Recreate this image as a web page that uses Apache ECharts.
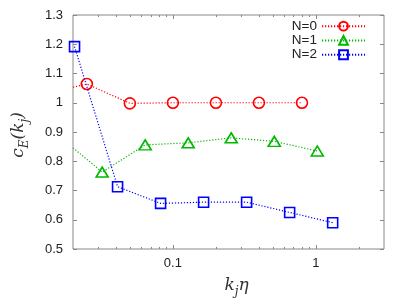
<!DOCTYPE html>
<html>
<head>
<meta charset="utf-8">
<script src="https://cdn.jsdelivr.net/npm/echarts@6/dist/echarts.min.js"></script>
<style>html,body{margin:0;padding:0;background:#fff}#c{width:398px;height:298px}</style>
</head>
<body>
<div id="c"></div>
<script>
// ---- data ----
const seriesNames = ['N=0', 'N=1', 'N=2'];
const xN0 = [0.0125, 0.025, 0.05, 0.1, 0.2, 0.4, 0.8];
const yN0 = [1.03, 1.064, 0.998, 1.0, 1.0, 1.0, 1.0];
const xN1 = [0.016, 0.032, 0.064, 0.128, 0.256, 0.512, 1.024];
const yN1 = [0.885, 0.763, 0.856, 0.863, 0.88, 0.868, 0.835];
const xN2 = [0.0205, 0.041, 0.082, 0.164, 0.328, 0.656, 1.312];
const yN2 = [1.192, 0.713, 0.656, 0.66, 0.66, 0.625, 0.59];
const xMajorTicks = [0.1, 1];
const xMinorTicks = [0.03, 0.04, 0.05, 0.06, 0.07, 0.08, 0.09, 0.2, 0.3, 0.4, 0.5, 0.6, 0.7, 0.8, 0.9, 2];

const zip = (xs, ys) => xs.map((x, i) => [x, ys[i]]);
const colors = ['#ff0000', '#00b800', '#0000ff'];
const symbols = ['circle', 'triangle', 'rect'];
const sizes = [11, [12, 10], 10];
const datas = [zip(xN0, yN0), zip(xN1, yN1), zip(xN2, yN2)];

const axisColor = '#888888';
const font = '"Liberation Sans", Arial, sans-serif';
const serif = '"DejaVu Serif", "Liberation Serif", serif';
const nameRich = {
  i: { fontFamily: serif, fontStyle: 'italic', fontSize: 17, color: '#333', lineHeight: 24, verticalAlign: 'middle' },
  s: { fontFamily: serif, fontStyle: 'italic', fontSize: 12, color: '#333', lineHeight: 24, verticalAlign: 'bottom' }
};

function xAx(pos, ticks, len, labels) {
  return {
    type: 'log', logBase: 10, min: 0.02, max: 3, position: pos,
    gridIndex: 0,
    axisLine: { show: false },
    splitLine: { show: false },
    axisTick: { show: true, inside: true, length: len, customValues: ticks, lineStyle: { color: axisColor, width: 1 } },
    axisLabel: labels ? { show: true, customValues: xMajorTicks, margin: 8, color: '#222', fontSize: 13, fontFamily: font,
      formatter: v => String(+(+v).toPrecision(3)) } : { show: false }
  };
}

const xAxes = [xAx('bottom', xMajorTicks, 4, true), xAx('bottom', xMinorTicks, 2, false),
               xAx('top', xMajorTicks, 4, false), xAx('top', xMinorTicks, 2, false)];
xAxes[0].name = '{i|k}{s|j}{i|η}';
xAxes[0].nameLocation = 'middle';
xAxes[0].nameGap = 25;
xAxes[0].nameTextStyle = { rich: nameRich, padding: [0, 0, 0, 16] };

function yAx(pos, labels) {
  return {
    type: 'value', min: 0.5, max: 1.3, interval: 0.1, position: pos,
    axisLine: { show: false }, splitLine: { show: false },
    axisTick: { show: true, inside: true, length: 4, lineStyle: { color: axisColor } },
    axisLabel: labels ? { show: true, margin: 10, color: '#222', fontSize: 13, fontFamily: font,
      formatter: v => String(+(+v).toFixed(1)) } : { show: false }
  };
}
const yAxes = [yAx('left', true), yAx('right', false)];
yAxes[0].name = '{i|c}{s|E}{i|(k}{s|j}{i|)}';
yAxes[0].nameLocation = 'middle';
yAxes[0].nameRotate = 90;
yAxes[0].nameGap = 42;
yAxes[0].nameTextStyle = { rich: nameRich, padding: [0, 6, 0, 0] };

const series = seriesNames.map((name, i) => ({
  name, type: 'line', xAxisIndex: 0, yAxisIndex: 0,
  data: datas[i], clip: true,
  symbol: symbols[i], symbolSize: sizes[i],
  showAllSymbol: true,
  lineStyle: { color: colors[i], width: 1.2, type: [1.2, 1.8] },
  itemStyle: { color: 'rgba(255,255,255,0)', borderColor: colors[i], borderWidth: 1.6 },
  emphasis: { disabled: true },
  z: 3 + i
}));

const chart = echarts.init(document.getElementById('c'), null, { renderer: 'canvas' });
chart.setOption({
  animation: false,
  backgroundColor: '#fff',
  grid: { left: 73, right: 14, top: 15, bottom: 49, show: true, containLabel: false, outerBoundsMode: 'none',
    borderColor: axisColor, borderWidth: 1, backgroundColor: 'transparent' },
  legend: {
    data: seriesNames, orient: 'vertical', right: 27, top: 14, align: 'right',
    itemWidth: 43, itemHeight: 11, itemGap: 0,
    textStyle: { fontSize: 13.5, lineHeight: 14.3, color: '#222', fontFamily: font },
    selectedMode: false
  },
  xAxis: xAxes,
  yAxis: yAxes,
  series
});
</script>
</body>
</html>
